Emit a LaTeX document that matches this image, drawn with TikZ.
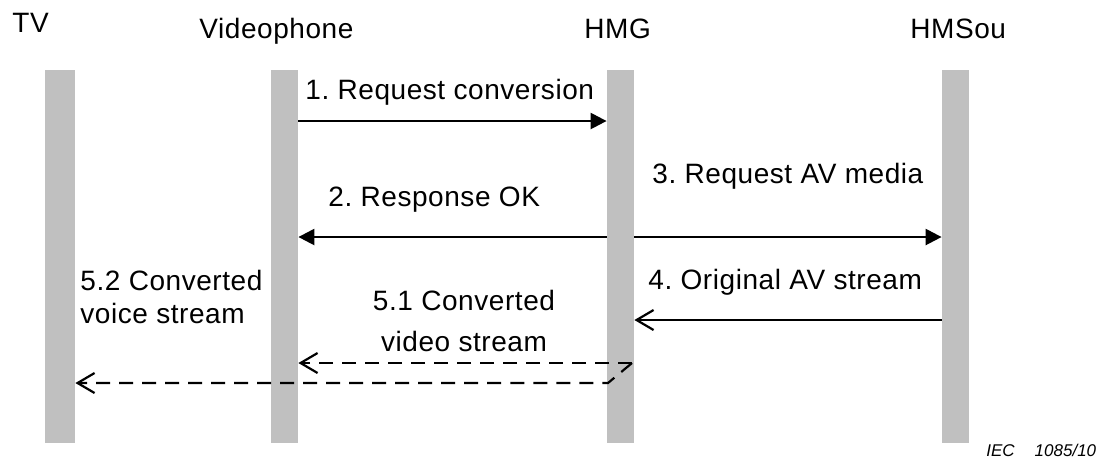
\documentclass[tikz,border=0pt]{standalone}
\usepackage{fontspec}
\setmainfont{Liberation Sans}
\newfontfamily\lblfont[LetterSpace=2]{Liberation Sans}
\usetikzlibrary{arrows.meta}
\definecolor{bargray}{RGB}{192,192,192}
\frenchspacing
\begin{document}
\begin{tikzpicture}[x=0.5pt,y=-0.5pt,
  bar/.style={fill=bargray,draw=none,inner sep=0pt,minimum height=186.5pt},
  lbl/.style={inner sep=0pt,font=\frenchspacing\lblfont\fontsize{14pt}{16pt}\selectfont},
  msg/.style={line width=1.2pt,-{Triangle[length=8pt,width=8pt]}},
  reply/.style={line width=1.1pt,-{Straight Barb[length=8.5pt,width=10pt,line width=1.1pt]}},
  conv/.style={line width=1.1pt,dash pattern=on 7pt off 4.5pt,-{Straight Barb[length=8.5pt,width=10pt,line width=1.1pt]}}]
\useasboundingbox (0,0) rectangle (1096,463);
% lifelines
\node[bar,minimum width=15pt] (tv) at (60,256.5) {};
\node[bar,minimum width=13.5pt] (vp) at (284.5,256.5) {};
\node[bar,minimum width=13.5pt] (hmg) at (620.5,256.5) {};
\node[bar,minimum width=13.5pt] (hms) at (955.5,256.5) {};
% headers
\node[lbl,anchor=base west] (tvh) at (12,32) {TV};
\node[lbl,anchor=base west] (vph) at (199,38) {Videophone};
\node[lbl,anchor=base west] (hmgh) at (584,38) {HMG};
\node[lbl,anchor=base west] (hmsh) at (910,38) {HMSou};
% labels
\node[lbl,anchor=base west] (l1) at (305,99) {1. Request conversion};
\node[lbl,anchor=base west] (l2) at (328,206) {2. Response OK};
\node[lbl,anchor=base west] (l3) at (652,183) {3. Request AV media};
\node[lbl,anchor=base west] (l4) at (648,289) {4. Original AV stream};
\node[lbl,anchor=base west] (l52a) at (80,290) {5.2 Converted};
\node[lbl,anchor=base west] (l52b) at (80,323) {voice stream};
\node[lbl,anchor=base] (l51a) at (464,310) {5.1 Converted};
\node[lbl,anchor=base] (l51b) at (464,351) {video stream};
\node[inner sep=0pt,anchor=base west,font=\itshape\fontsize{8.5pt}{10pt}\selectfont] (iec) at (986,456) {IEC\hspace{10pt}1085/10};
% messages
\draw[msg] (vp.east |- 0,121) -- (hmg.west |- 0,121);
\draw[msg] (hmg.west |- 0,237) -- (vp.east |- 0,237);
\draw[msg] (hmg.east |- 0,237) -- (hms.west |- 0,237);
\draw[reply] (hms.west |- 0,320) -- (hmg.east |- 0,320);
\coordinate (src) at (632,363);
\coordinate (bend) at (608,383);
\draw[conv] (src) -- (vp.east |- src);
\draw[conv] (src) -- (bend) -- (tv.east |- bend);
\end{tikzpicture}
\end{document}
